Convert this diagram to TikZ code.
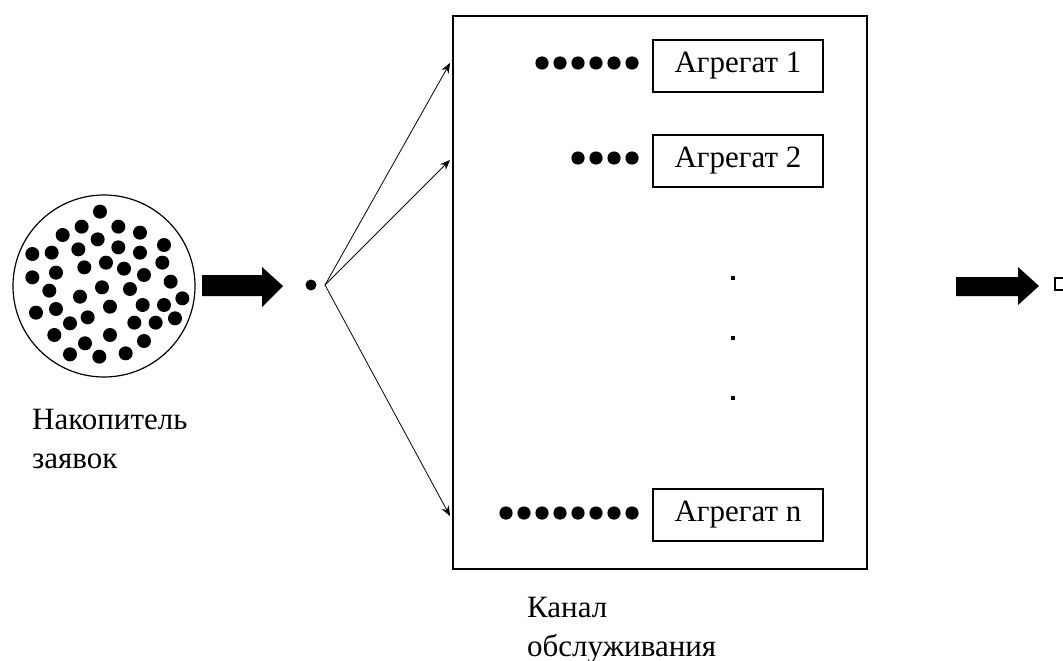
\documentclass[tikz,border=0pt]{standalone}
\usepackage{fontspec}
\setmainfont{Liberation Serif}
\usetikzlibrary{arrows.meta}
\begin{document}
\begin{tikzpicture}[x=1pt,y=-1pt,
  lbl/.style={font=\fontsize{31}{39}\selectfont, inner sep=0pt, anchor=base west, align=left},
  aggbox/.style={draw, line width=2.2pt, minimum width=170pt, minimum height=52pt, inner sep=0pt, font=\fontsize{31}{35}\selectfont},
  fanline/.style={line width=0.8pt, -{Stealth[length=10pt,width=8pt]}},
  bigarrow/.style={fill=black},
  qdot/.style={fill=black}]
\useasboundingbox (0,0) rectangle (1063,661);
% storage
\node[draw, circle, line width=1.2pt, minimum size=182pt, inner sep=0pt] (store) at (104,286) {};
\begin{scope}[shift={(0,190)}, x=0.33333pt, y=-0.33333pt]
\foreach \p in {(300,65),(245,110),(355,110),(420,128),(188,135),(293,148),(235,178),(355,172),(420,188),(492,165),(97,192),(155,188),(253,232),(318,218),(372,236),(432,255),(487,218),(97,262),(168,248),(148,302),(306,292),(390,297),(512,275),(240,320),(330,350),(428,345),(492,345),(547,325),(108,368),(168,357),(263,382),(210,400),(403,398),(467,398),(525,385),(163,435),(330,435),(432,453),(255,460),(210,493),(298,500),(377,490)}
  \fill \p circle (7pt);
\end{scope}
\node[lbl] (storelbl) at (32,468) {Накопитель\\заявок};
% big arrow in
\fill[bigarrow] (202,275) -- (262,275) -- (262,267) -- (283,286) -- (262,307) -- (262,296) -- (202,296) -- cycle;
% single request dot
\node[circle, fill=black, minimum size=11pt, inner sep=0pt] (req) at (311,285) {};
\coordinate (fan) at (325,285);
% channel box
\node[draw, line width=1.6pt, minimum width=414pt, minimum height=553pt, inner sep=0pt, anchor=north west] (chan) at (452,15) {};
\node[lbl] (chanlbl) at (527,656) {Канал\\обслуживания};
\coordinate (t1) at (450,63);
\coordinate (t2) at (450,160);
\coordinate (tn) at (450,516);
\draw[fanline] (fan) -- (t1);
\draw[fanline] (fan) -- (t2);
\draw[fanline] (fan) -- (tn);
% aggregates
\node[aggbox] (a1) at (738,66) {Агрегат 1};
\node[aggbox] (a2) at (738,161) {Агрегат 2};
\node[aggbox] (an) at (738,515) {Агрегат n};
\foreach \i in {0,...,5} \fill[qdot] (632-18*\i,63) circle (6.6pt);
\foreach \i in {0,...,3} \fill[qdot] (632-18*\i,158) circle (6.6pt);
\foreach \i in {0,...,7} \fill[qdot] (632-18*\i,513) circle (6.6pt);
\foreach \y in {278,338,398} \fill (731,\y-2) rectangle (735,\y+2);
% big arrow out
\fill[bigarrow] (956,277) -- (1018,277) -- (1018,267) -- (1039,286) -- (1018,305) -- (1018,296) -- (956,296) -- cycle;
\draw[line width=2pt] (1072,278) -- (1055,278) -- (1055,290) -- (1072,290);
\end{tikzpicture}
\end{document}
